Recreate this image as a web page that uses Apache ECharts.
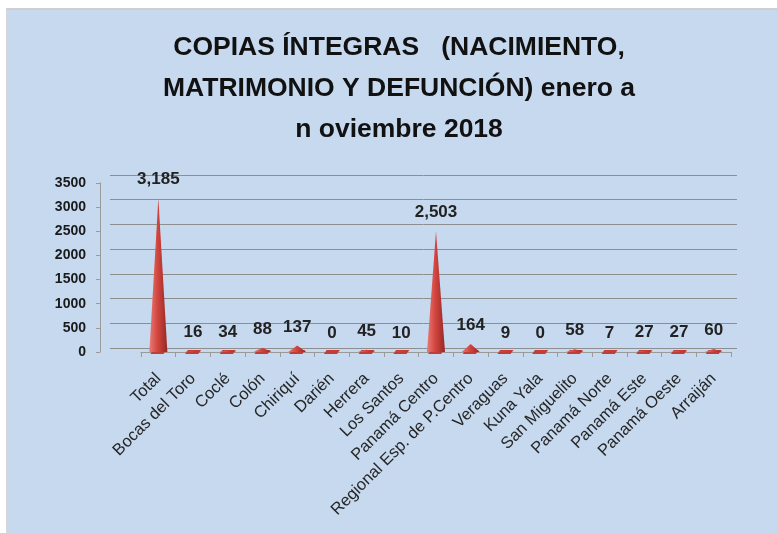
<!DOCTYPE html>
<html>
<head>
<meta charset="utf-8">
<script src="https://cdn.jsdelivr.net/npm/echarts@6/dist/echarts.min.js"></script>
<style>
html,body{margin:0;padding:0;background:#ffffff;}
#panel{position:absolute;left:6px;top:8px;width:771px;height:525px;background:#c6d9ef;border-left:1px solid #d8d8d8;border-top:2px solid #cfcfcf;box-sizing:border-box;}
#chart{position:absolute;left:0;top:0;width:777px;height:533px;}
</style>
</head>
<body>
<div id="panel"></div>
<div id="chart"></div>
<script>
const titleText = 'COPIAS ÍNTEGRAS   (NACIMIENTO,\nMATRIMONIO Y DEFUNCIÓN) enero a\nn oviembre 2018';
const categories = ['Total','Bocas del Toro','Coclé','Colón','Chiriquí','Darién','Herrera','Los Santos','Panamá Centro','Regional Esp. de P.Centro','Veraguas','Kuna Yala','San Miguelito','Panamá Norte','Panamá Este','Panamá Oeste','Arraiján'];
const values = [3185,16,34,88,137,0,45,10,2503,164,9,0,58,7,27,27,60];
const yMin = 0, yMax = 3500, yStep = 500;

const chart = echarts.init(document.getElementById('chart'), null, {renderer:'canvas'});
const coneColor = new echarts.graphic.LinearGradient(0,0,1,0,[
  {offset:0,color:'#e87a76'},{offset:0.45,color:'#d3463f'},{offset:1,color:'#962824'}
]);
chart.setOption({
  backgroundColor:'transparent',
  animation:false,
  title:{
    text:titleText,
    left:394, textAlign:'center', top:22,
    textStyle:{fontFamily:'Liberation Sans',fontWeight:'bold',fontSize:26.5,lineHeight:41,color:'#111'}
  },
  grid:[
    {left:110,right:40,top:175,height:173},
    {left:141,right:46,top:183,height:169}
  ],
  xAxis:[
    {gridIndex:0,type:'value',min:0,max:1,show:false},
    {gridIndex:1,type:'category',data:categories,offset:4,
     axisLine:{show:true,lineStyle:{color:'#9a9a9a'}},
     axisTick:{show:true,length:5,lineStyle:{color:'#9a9a9a'}},
     axisLabel:{interval:0,rotate:45,margin:20,fontFamily:'Liberation Sans',fontSize:16.5,color:'#262626'}}
  ],
  yAxis:[
    {gridIndex:0,type:'value',min:yMin,max:yMax,interval:yStep,
     axisLabel:{show:false},axisLine:{show:false},axisTick:{show:false},
     splitLine:{show:true,lineStyle:{color:'#8e8e8e',width:1}}},
    {gridIndex:1,type:'value',min:yMin,max:yMax,interval:yStep,offset:41,
     splitLine:{show:false},
     axisLine:{show:true,lineStyle:{color:'#9a9a9a'}},
     axisTick:{show:true,length:4,lineStyle:{color:'#9a9a9a'}},
     axisLabel:{margin:14,formatter:v=>String(v),fontFamily:'Liberation Sans',fontWeight:'bold',fontSize:14,color:'#1a1a1a'}}
  ],
  series:[
    {type:'pictorialBar',xAxisIndex:1,yAxisIndex:1,data:values,
     symbol:'path://M0,3 L3,0 L17,0 L14,3 Z',symbolSize:[16,4],symbolPosition:'start',symbolOffset:[0,'50%'],
     itemStyle:{color:'#c43c38'},silent:true,z:2},
    {type:'pictorialBar',xAxisIndex:1,yAxisIndex:1,data:values,
     symbol:'path://M0,100 L50,0 L100,100 Z',symbolSize:[18,'100%'],
     itemStyle:{color:coneColor},z:3,
     label:{show:true,position:'top',distance:10,
       formatter:p=>p.value.toLocaleString('en-US'),
       fontFamily:'Liberation Sans',fontWeight:'bold',fontSize:17,color:'#222'}}
  ]
});
</script>
</body>
</html>
